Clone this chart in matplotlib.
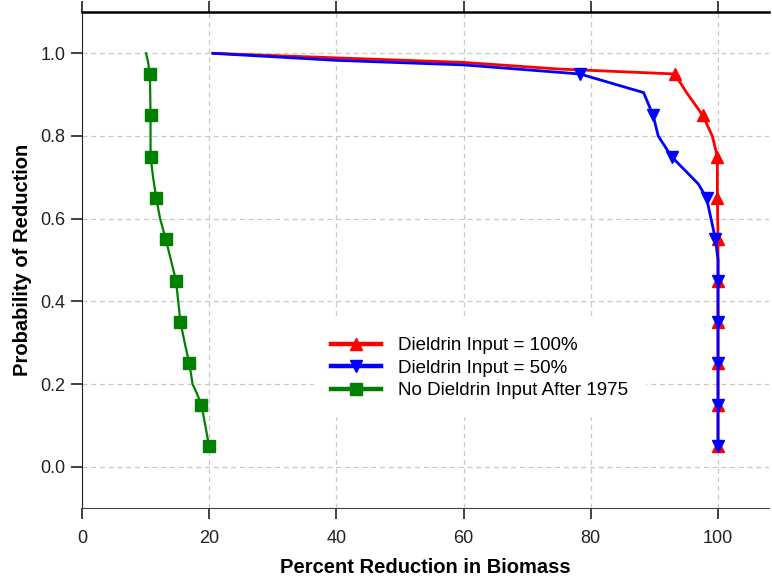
import matplotlib
matplotlib.use("Agg")
import matplotlib.pyplot as plt

plt.rcParams['font.family'] = ['Liberation Sans', 'DejaVu Sans']

# curve points (percent reduction, probability); markers sit at 0.95, 0.85, ... 0.05
red_x = [20.6, 40.0, 60.0, 75.0, 93.2, 95.1, 97.6, 99.1, 99.9, 99.9, 100.0, 100.0, 100.0, 100.0, 100.0, 100.0]
red_y = [1.0, 0.989, 0.978, 0.962, 0.95, 0.904, 0.85, 0.80, 0.75, 0.65, 0.55, 0.45, 0.35, 0.25, 0.15, 0.05]
red_marks = [4, 6, 8, 9, 10, 11, 12, 13, 14, 15]

blue_x = [20.6, 40.0, 60.0, 75.0, 78.3, 88.3, 89.8, 90.6, 92.7, 96.9, 98.2, 99.6, 100.0, 100.0, 100.0, 100.0, 100.0, 100.0]
blue_y = [1.0, 0.983, 0.972, 0.954, 0.95, 0.905, 0.85, 0.80, 0.75, 0.684, 0.65, 0.55, 0.50, 0.45, 0.35, 0.25, 0.15, 0.05]
blue_marks = [4, 6, 8, 10, 11, 13, 14, 15, 16, 17]

green_x = [10.1, 10.4, 10.7, 10.8, 10.8, 10.8, 11.2, 11.7, 12.3, 13.2, 14.0, 14.8, 15.5, 16.3, 16.9, 17.4, 18.0, 18.8, 20.0]
green_y = [1.0, 0.98, 0.95, 0.85, 0.80, 0.75, 0.70, 0.65, 0.60, 0.55, 0.50, 0.45, 0.35, 0.29, 0.25, 0.20, 0.18, 0.15, 0.05]
green_marks = [2, 3, 5, 7, 9, 11, 12, 14, 17, 18]

labels = ["Dieldrin Input = 100%", "Dieldrin Input = 50%", "No Dieldrin Input After 1975"]

fig = plt.figure(figsize=(7.72, 5.79), dpi=100)
ax = fig.add_axes([0.106, 0.1226, 0.89, 0.8567])

ax.plot(red_x, red_y, color="#ff0000", lw=2, marker="^", markersize=9,
        markevery=red_marks, label=labels[0])
ax.plot(blue_x, blue_y, color="#0000ff", lw=2, marker="v", markersize=9,
        markevery=blue_marks, label=labels[1])
ax.plot(green_x, green_y, color="#008000", lw=1.6, marker="s", markersize=9,
        markevery=green_marks, label=labels[2])

ax.set_xlim(0, 108)
ax.set_ylim(-0.1, 1.1)
ax.set_xticks([0, 20, 40, 60, 80, 100])
ax.set_yticks([0.0, 0.2, 0.4, 0.6, 0.8, 1.0])
ax.set_yticklabels(["0.0", "0.2", "0.4", "0.6", "0.8", "1.0"])
ax.grid(True, color="#c8c8c8", linestyle=(0, (4, 3)), linewidth=0.9)
ax.set_axisbelow(True)

ax.spines['right'].set_visible(False)
ax.spines['top'].set_linewidth(1.8)
ax.spines['top'].set_color("black")
ax.spines['left'].set_color("#222222")
ax.spines['bottom'].set_color("#444444")
ax.tick_params(axis='both', direction='out', length=8, width=1.2, labelsize=13, colors="#222222")
ax.tick_params(axis='x', top=True, pad=8)
ax.tick_params(axis='y', pad=4)

ax.set_xlabel("Percent Reduction in Biomass", fontsize=14.5, fontweight="bold", labelpad=8)
ax.set_ylabel("Probability of Reduction", fontsize=14.5, fontweight="bold", labelpad=6)

leg = ax.legend(loc="center", bbox_to_anchor=(0.579, 0.282), frameon=True, fontsize=13.5,
                handlelength=2.7, handletextpad=0.9, labelspacing=0.28, borderpad=0.9)
leg.get_frame().set_edgecolor("white")
leg.get_frame().set_facecolor("white")
leg.get_frame().set_alpha(1.0)
for h in leg.get_lines():
    h.set_linewidth(3.2)

fig.savefig("out.png", dpi=100)
